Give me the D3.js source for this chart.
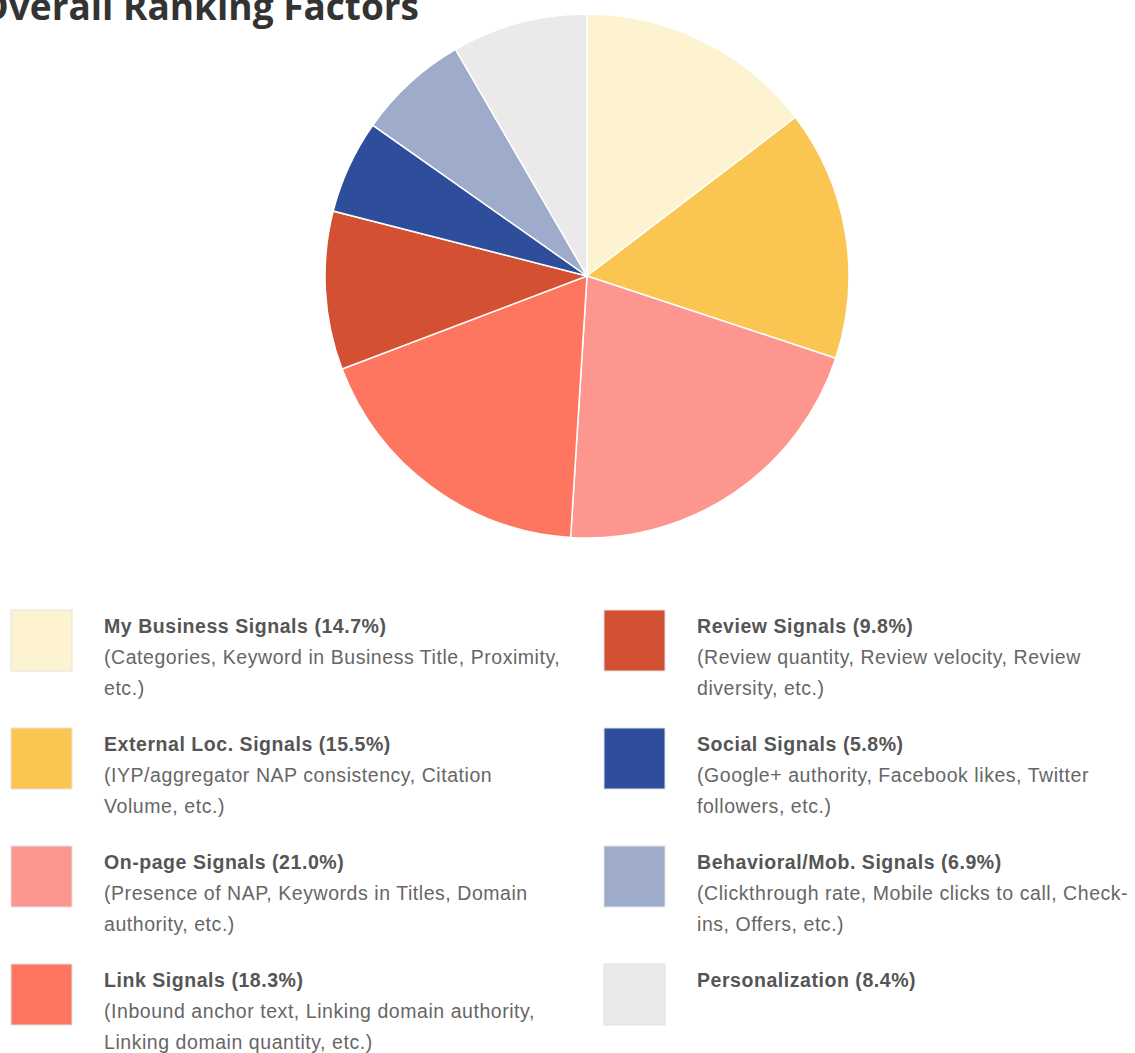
<!DOCTYPE html>
<html lang="en">
<head>
    <meta charset="UTF-8">
    <title>Overall Ranking Factors</title>
    <script src="https://d3js.org/d3.v7.min.js"></script>
    <style>
    body{
        margin: 0;
        background: #fff;
    }
    .title{
        font-family: "Open Sans", sans-serif;
        font-weight: 700;
        font-size: 37px;
        fill: #333;
    }
    .legendName{
        font-family: "Liberation Sans", Arial, sans-serif;
        font-weight: 700;
        font-size: 19.5px;
        letter-spacing: 0.55px;
        fill: #555;
    }
    .legendDesc{
        font-family: "Liberation Sans", Arial, sans-serif;
        font-size: 19.5px;
        letter-spacing: 0.55px;
        fill: #666;
    }
    </style>
</head>
<body>
    <script>
    var width = 1135;
    var height = 1053;

    // data
    var categories = ["My Business Signals", "External Loc. Signals", "On-page Signals", "Link Signals",
        "Review Signals", "Social Signals", "Behavioral/Mob. Signals", "Personalization"];
    var values = [14.7, 15.5, 21.0, 18.3, 9.8, 5.8, 6.9, 8.4];
    var colors = ["#fef3d0", "#fbc552", "#fe9690", "#fe7660", "#d35132", "#2e4d9b", "#9eabcb", "#ebe9ea"];
    var descriptions = [
        ["(Categories, Keyword in Business Title, Proximity,", "etc.)"],
        ["(IYP/aggregator NAP consistency, Citation", "Volume, etc.)"],
        ["(Presence of NAP, Keywords in Titles, Domain", "authority, etc.)"],
        ["(Inbound anchor text, Linking domain authority,", "Linking domain quantity, etc.)"],
        ["(Review quantity, Review velocity, Review", "diversity, etc.)"],
        ["(Google+ authority, Facebook likes, Twitter", "followers, etc.)"],
        ["(Clickthrough rate, Mobile clicks to call, Check-", "ins, Offers, etc.)"],
        []
    ];

    var data = categories.map(function(c, i){
        return {name: c, value: values[i], color: colors[i], desc: descriptions[i]};
    });

    var svg = d3.select("body")
        .append("svg")
        .attr("width", width)
        .attr("height", height);

    // title (cut off at the top-left edge like the source image)
    svg.append("text")
        .attr("class", "title")
        .attr("x", 419)
        .attr("y", 20)
        .attr("text-anchor", "end")
        .text("Overall Ranking Factors");

    // pie
    var cx = 587, cy = 276, radius = 262;
    var pie = d3.pie()
        .sort(null)
        .value(function(d){ return d.value; });
    var arc = d3.arc()
        .innerRadius(0)
        .outerRadius(radius);

    svg.append("g")
        .attr("transform", "translate(" + cx + "," + cy + ")")
        .selectAll("path")
        .data(pie(data)).enter()
        .append("path")
        .attr("d", arc)
        .attr("fill", function(d){ return d.data.color; })
        .attr("stroke", "#fff")
        .attr("stroke-width", 1.5);

    // legend: two columns of four
    var rowH = 118;
    var legend = svg.append("g").attr("transform", "translate(0,610)");
    var item = legend.selectAll(".item")
        .data(data).enter()
        .append("g")
        .attr("class", "item")
        .attr("transform", function(d, i){
            var col = Math.floor(i / 4), row = i % 4;
            return "translate(" + (11 + col * 593) + "," + (row * rowH) + ")";
        });

    item.append("rect")
        .attr("width", 61)
        .attr("height", 61)
        .attr("fill", function(d){ return d.color; })
        .attr("stroke", "#e2e2e2")
        .attr("stroke-width", 1);

    item.append("text")
        .attr("class", "legendName")
        .attr("x", 93)
        .attr("y", 23)
        .text(function(d){ return d.name + " (" + d.value.toFixed(1) + "%)"; });

    item.selectAll(".legendDesc")
        .data(function(d){ return d.desc; }).enter()
        .append("text")
        .attr("class", "legendDesc")
        .attr("x", 93)
        .attr("y", function(d, i){ return 54 + i * 31; })
        .text(function(d){ return d; });
    </script>
</body>
</html>
